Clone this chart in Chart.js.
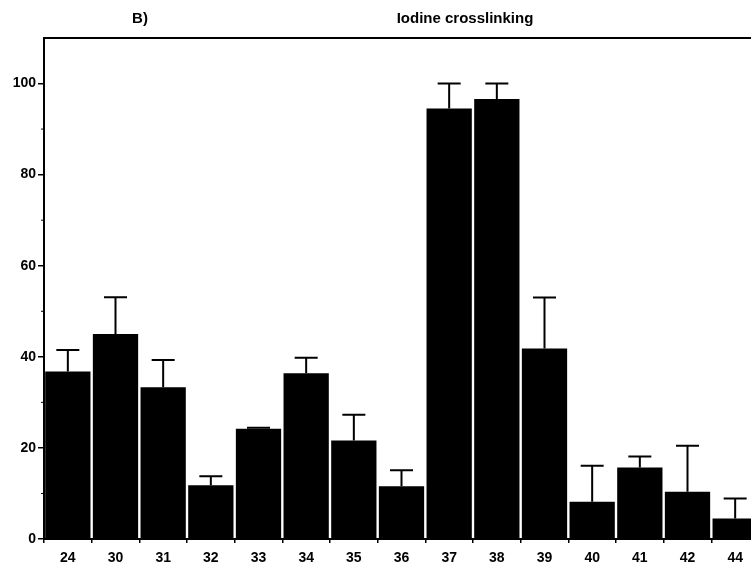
<!DOCTYPE html>
<html lang="en">
<head>
  <meta charset="UTF-8" />
  <title>Iodine crosslinking</title>
  <script src="https://cdn.jsdelivr.net/npm/chart.js"></script>
  <style>
    html, body { margin: 0; padding: 0; background: #fff; overflow: hidden; }
    #wrap { width: 760px; height: 571px; position: relative; }
  </style>
</head>
<body>
  <div id="wrap"><canvas id="chart"></canvas></div>

  <script>
    // data
    const residues = ['24', '30', '31', '32', '33', '34', '35', '36', '37', '38', '39', '40', '41', '42', '44'];
    const crosslink = [36.8, 45.0, 33.3, 11.8, 24.2, 36.4, 21.6, 11.6, 94.5, 96.6, 41.8, 8.2, 15.7, 10.4, 4.5];
    const errTop = [41.5, 53.1, 39.3, 13.8, 24.4, 39.8, 27.3, 15.1, 100.0, 100.0, 53.0, 16.1, 18.1, 20.5, 8.9];
    const yTicks = [0, 20, 40, 60, 80, 100];
    const yMinorTicks = [10, 30, 50, 70, 90];

    const FONT = "'Liberation Sans', Arial, sans-serif";

    const extras = {
      id: 'extras',
      afterDatasetsDraw(chart) {
        const ctx = chart.ctx;
        const y = chart.scales.y;
        const area = chart.chartArea;
        const bars = chart.getDatasetMeta(0).data;
        ctx.save();
        ctx.strokeStyle = '#000';
        ctx.lineWidth = 2;
        // error bars (upper only)
        bars.forEach((bar, i) => {
          const top = y.getPixelForValue(errTop[i]);
          ctx.beginPath();
          ctx.moveTo(bar.x, bar.y);
          ctx.lineTo(bar.x, top);
          ctx.moveTo(bar.x - 11.5, top);
          ctx.lineTo(bar.x + 11.5, top);
          ctx.stroke();
        });
        // top frame line
        ctx.beginPath();
        ctx.moveTo(area.left - 1, area.top);
        ctx.lineTo(chart.width, area.top);
        ctx.stroke();
        // minor y ticks
        ctx.lineWidth = 1;
        yMinorTicks.forEach(v => {
          const py = y.getPixelForValue(v);
          ctx.beginPath();
          ctx.moveTo(area.left - 3, py);
          ctx.lineTo(area.left, py);
          ctx.stroke();
        });
        // titles
        ctx.fillStyle = '#000';
        ctx.font = 'bold 15px ' + FONT;
        ctx.textAlign = 'center';
        ctx.textBaseline = 'middle';
        ctx.fillText('B)', 140, 19);
        ctx.fillText('Iodine crosslinking', 465, 19);
        ctx.restore();
      }
    };

    new Chart(document.getElementById('chart'), {
      type: 'bar',
      data: {
        labels: residues,
        datasets: [{
          data: crosslink,
          backgroundColor: '#000',
          borderWidth: 0,
          barPercentage: 0.95,
          categoryPercentage: 1.0
        }]
      },
      options: {
        responsive: true,
        maintainAspectRatio: false,
        animation: false,
        layout: { padding: { top: 38, left: 0, right: 1, bottom: 0 } },
        plugins: { legend: { display: false }, tooltip: { enabled: false } },
        scales: {
          x: {
            grid: { drawOnChartArea: false, drawTicks: true, tickLength: 4, color: '#000', lineWidth: 1.5 },
            border: { display: true, color: '#000', width: 2 },
            ticks: { color: '#000', padding: 7, font: { family: FONT, weight: 'bold', size: 14 }, maxRotation: 0 },
            afterFit(scale) { scale.height = 32; }
          },
          y: {
            min: 0,
            max: 110,
            afterBuildTicks(scale) { scale.ticks = yTicks.map(v => ({ value: v })); },
            grid: { drawOnChartArea: false, drawTicks: true, tickLength: 6, color: '#000', lineWidth: 1.5 },
            border: { display: true, color: '#000', width: 2 },
            ticks: { color: '#000', padding: 2, font: { family: FONT, weight: 'bold', size: 14 } },
            afterFit(scale) { scale.width = 44; }
          }
        }
      },
      plugins: [extras]
    });
  </script>
</body>
</html>
